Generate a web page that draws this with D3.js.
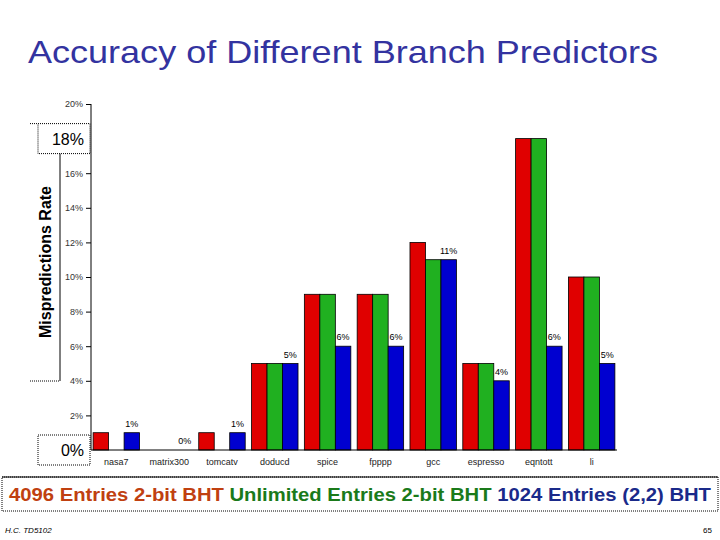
<!DOCTYPE html>
<html><head><meta charset="utf-8">
<script src="https://cdn.jsdelivr.net/npm/d3@7"></script>
<style>body{margin:0;background:#fff}svg{font-family:"Liberation Sans",Arial,sans-serif}</style>
</head><body><div id="chart"></div>
<script>
const CATEGORIES = ["nasa7","matrix300","tomcatv","doducd","spice","fpppp","gcc","espresso","eqntott","li"];
const SERIES = ["4096 Entries 2-bit BHT","Unlimited Entries 2-bit BHT","1024 Entries (2,2) BHT"];
const BHT4096 = [1,0,1,5,9,9,12,5,18,10];
const UNLIMITED = [0,0,0,5,9,9,11,5,18,10];
const BHT1024 = [1,0,1,5,6,6,11,4,6,5];
const BAR_LABELS = ["1%","0%","1%","5%","6%","6%","11%","4%","6%","5%"];
const Y_TICKS = [2,4,6,8,10,12,14,16,20];
const COLORS = ["#e00000","#20b020","#0000d0"];
const LEGEND_COLORS = ["#c04010","#1a7a1a","#1a2a8a"];

const svg = d3.select("#chart").append("svg").attr("width",720).attr("height",540);

svg.append("text").attr("x",28).attr("y",63).attr("fill","#3333a0")
  .style("font-size","32px").attr("textLength",630).attr("lengthAdjust","spacingAndGlyphs")
  .text("Accuracy of Different Branch Predictors");

const x0 = d3.scaleBand().domain(CATEGORIES).range([91,617]).paddingInner(0.12).paddingOuter(0.04);
const x1 = d3.scaleBand().domain([0,1,2]).range([0,x0.bandwidth()]);
const y = d3.scaleLinear().domain([0,20]).range([450,104]);

const values = [BHT4096, UNLIMITED, BHT1024];
const g = svg.append("g");
CATEGORIES.forEach((c,i) => {
  values.forEach((arr,s) => {
    if (arr[i] <= 0) return;
    g.append("rect").attr("x",x0(c)+x1(s)).attr("y",y(arr[i]))
      .attr("width",x1.bandwidth()).attr("height",y(0)-y(arr[i]))
      .attr("fill",COLORS[s]).attr("stroke","#000").attr("stroke-width",0.8);
  });
  g.append("text").attr("x",x0(c)+x1(2)+x1.bandwidth()/2).attr("y",y(BHT1024[i])-6)
    .attr("text-anchor","middle").style("font-size","9px").style("fill","#000").text(BAR_LABELS[i]);
});

// axes
const ay = svg.append("g").attr("transform","translate(91,0)")
  .call(d3.axisLeft(y).tickValues(Y_TICKS).tickSize(5).tickFormat(d => d + "%"));
ay.select(".domain").attr("d","M0,104V450");
ay.selectAll("text").style("font-size","9px").style("fill","#333");
const ax = svg.append("g").attr("transform","translate(0,450)")
  .call(d3.axisBottom(x0).tickSize(0).tickPadding(9));
ax.select(".domain").attr("d","M91,0H617");
ax.selectAll("text").style("font-size","9px").style("fill","#222");

// highlighted boxes
[[18,"18%"],[0,"0%"]].forEach(([v,t]) => {
  svg.append("rect").attr("x",38).attr("y",y(v)-15).attr("width",52).attr("height",30)
    .attr("fill","#fff").attr("stroke","#000").attr("stroke-dasharray","1,1");
  svg.append("text").attr("x",84).attr("y",y(v)+6).attr("text-anchor","end")
    .style("font-size","16px").text(t);
});
svg.append("line").attr("x1",60).attr("x2",60).attr("y1",y(18)+15).attr("y2",381).attr("stroke","#000");
svg.append("line").attr("x1",30).attr("x2",60).attr("y1",381).attr("y2",381).attr("stroke","#000").attr("stroke-dasharray","1,1");
svg.append("line").attr("x1",30).attr("x2",38).attr("y1",y(18)-15).attr("y2",y(18)-15).attr("stroke","#000").attr("stroke-dasharray","1,1");
svg.append("text").attr("transform","translate(51,262) rotate(-90)").attr("text-anchor","middle")
  .style("font-size","16px").style("font-weight","bold").text("Mispredictions Rate");

// legend
svg.append("rect").attr("x",2).attr("y",477).attr("width",716).attr("height",34)
  .attr("fill","none").attr("stroke","#000").attr("stroke-dasharray","1,1");
svg.append("line").attr("x1",2).attr("x2",718).attr("y1",477).attr("y2",477).attr("stroke","#000");
const lt = svg.append("text").attr("x",360).attr("y",501).attr("text-anchor","middle")
  .style("font-size","18px").style("font-weight","bold").attr("textLength",702).attr("lengthAdjust","spacingAndGlyphs");
SERIES.forEach((s,i) => lt.append("tspan").attr("fill",LEGEND_COLORS[i]).text((i?"  ":"") + s));

svg.append("text").attr("x",5).attr("y",533).style("font-size","8px").style("font-style","italic").text("H.C.  TD5102");
svg.append("text").attr("x",712).attr("y",533).attr("text-anchor","end").style("font-size","8px").text("65");
</script></body></html>
